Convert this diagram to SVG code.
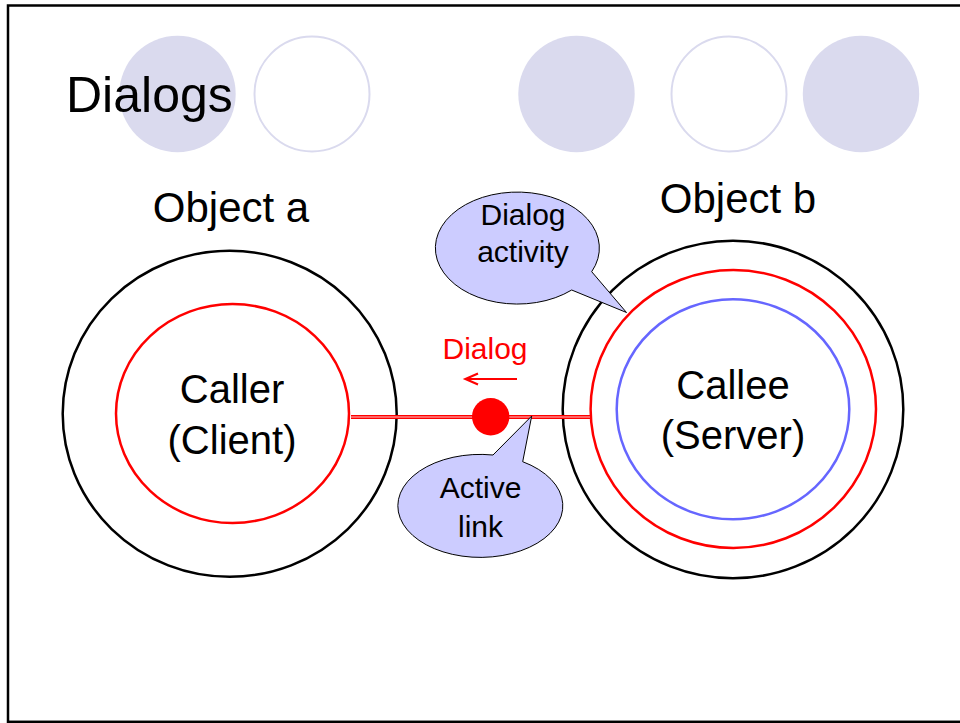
<svg xmlns="http://www.w3.org/2000/svg" width="960" height="723" viewBox="0 0 960 723">
  <style>
    .txt { font-family: "Liberation Sans", Arial, sans-serif; fill: #000; }
    .mid { text-anchor: middle; }
    .deco-fill { fill: #DADAEE; }
    .deco-ring { fill: none; stroke: #DADAEE; stroke-width: 2; }
    .callout { fill: #CCCCFF; stroke: #000; stroke-width: 1; }
  </style>

  <!-- slide background and frame -->
  <rect x="0" y="0" width="960" height="723" fill="#fff"/>
  <rect x="8" y="5.5" width="1000" height="716.3" fill="none" stroke="#000" stroke-width="2.5"/>

  <!-- decorative title circles -->
  <g id="decor">
    <circle class="deco-fill" cx="177.5" cy="94" r="58.2"/>
    <circle class="deco-ring" cx="312" cy="94" r="57.5"/>
    <circle class="deco-fill" cx="576.5" cy="94" r="58.2"/>
    <circle class="deco-ring" cx="729" cy="94" r="57.5"/>
    <circle class="deco-fill" cx="861" cy="94" r="58.2"/>
  </g>

  <text id="title" class="txt" x="66" y="112.3" font-size="50">Dialogs</text>

  <!-- object a: caller -->
  <g id="object-a">
    <text class="txt mid" x="231" y="221.7" font-size="42">Object a</text>
    <ellipse cx="229.7" cy="413.8" rx="167" ry="163" fill="none" stroke="#000" stroke-width="2.5"/>
    <ellipse cx="232.5" cy="413.5" rx="116.5" ry="109.5" fill="none" stroke="#FF0000" stroke-width="2.5"/>
    <text class="txt mid" x="232" y="402.7" font-size="40">Caller</text>
    <text class="txt mid" x="232" y="454" font-size="40">(Client)</text>
  </g>

  <!-- object b: callee -->
  <g id="object-b">
    <text class="txt mid" x="738" y="213.3" font-size="42">Object b</text>
    <ellipse cx="733" cy="409.5" rx="170.3" ry="168.8" fill="none" stroke="#000" stroke-width="2.5"/>
    <ellipse cx="733.3" cy="409" rx="142.7" ry="139" fill="none" stroke="#FF0000" stroke-width="2.5"/>
    <ellipse cx="733" cy="409.3" rx="116.3" ry="110" fill="none" stroke="#6666FF" stroke-width="2.5"/>
    <text class="txt mid" x="733" y="399.3" font-size="40">Callee</text>
    <text class="txt mid" x="733" y="449.3" font-size="40">(Server)</text>
  </g>

  <!-- dialog link between the two objects -->
  <g id="connectors">
    <line x1="351" y1="417" x2="590" y2="417" stroke="#FF0000" stroke-width="4"/>
    <line x1="351" y1="417" x2="590" y2="417" stroke="#FFC8C8" stroke-width="1.2"/>
    <circle cx="490.7" cy="416.7" r="18.7" fill="#FF0000"/>
    <line x1="517" y1="379" x2="466" y2="379" stroke="#FF0000" stroke-width="2.2"/>
    <polyline points="478,373.6 465.5,379 478,384.4" fill="none" stroke="#FF0000" stroke-width="2.2"/>
    <text x="485" y="359" font-size="30" text-anchor="middle" font-family="Liberation Sans, Arial, sans-serif" fill="#FF0000">Dialog</text>
  </g>

  <!-- callout: dialog activity -->
  <g id="callout-activity">
    <path class="callout" d="M 591.7 271.7 L 626.5 312.5 L 571.7 290 A 82 56 0 1 1 591.7 271.7 Z"/>
    <text class="txt mid" x="523" y="225" font-size="30">Dialog</text>
    <text class="txt mid" x="523" y="262" font-size="30">activity</text>
  </g>

  <!-- callout: active link -->
  <g id="callout-link">
    <path class="callout" d="M 493 455 L 531.7 416 L 522.7 461.7 A 82.5 51.5 0 1 1 493 455 Z"/>
    <text class="txt mid" x="480.5" y="498" font-size="30">Active</text>
    <text class="txt mid" x="480.5" y="537" font-size="30">link</text>
  </g>
</svg>
